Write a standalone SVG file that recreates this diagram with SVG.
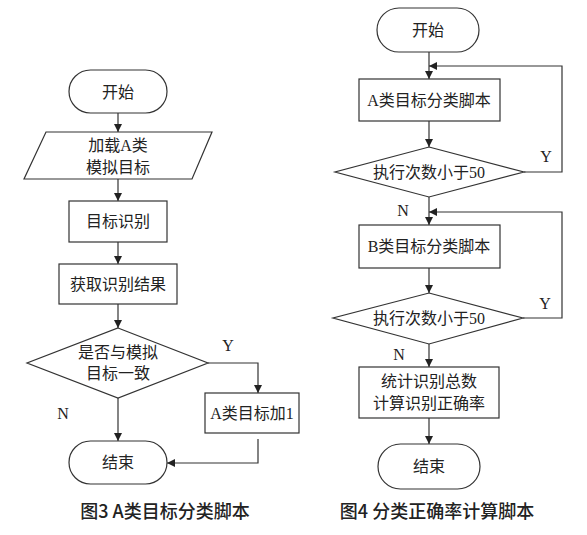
<svg xmlns="http://www.w3.org/2000/svg" width="587" height="535" viewBox="0 0 587 535">
<style>
.s{fill:#fff;stroke:#333;stroke-width:1.2}
.t{font-family:"Liberation Serif","Noto Sans CJK SC",serif;font-size:16px;fill:#222;text-anchor:middle;dominant-baseline:central}
.c{fill:none;stroke:#333;stroke-width:1.2}
.cap{font-family:"Noto Sans CJK SC","Liberation Sans",sans-serif;font-size:18px;font-weight:500;fill:#222;text-anchor:middle}
</style>
<defs>
<marker id="a" viewBox="0 0 10 10" refX="10" refY="5" markerWidth="8" markerHeight="8" markerUnits="userSpaceOnUse" orient="auto">
<path d="M0,0 L10,5 L0,10 z" fill="#222"/>
</marker>
</defs>
<rect width="587" height="535" fill="#fff"/>
<g id="connectors">
<line class="c" x1="118" y1="113" x2="118" y2="132" marker-end="url(#a)"/>
<line class="c" x1="118" y1="179" x2="118" y2="201" marker-end="url(#a)"/>
<line class="c" x1="118" y1="242" x2="118" y2="264" marker-end="url(#a)"/>
<line class="c" x1="118" y1="304" x2="118" y2="328" marker-end="url(#a)"/>
<polyline class="c" points="208,363 258,363 258,393" marker-end="url(#a)"/>
<line class="c" x1="118" y1="398" x2="118" y2="441" marker-end="url(#a)"/>
<polyline class="c" points="258,439 258,463 167,463" marker-end="url(#a)"/>
<line class="c" x1="429" y1="52" x2="429" y2="79" marker-end="url(#a)"/>
<polyline class="c" points="524,172 562,172 562,66 429,66" marker-end="url(#a)"/>
<line class="c" x1="429" y1="121" x2="429" y2="147" marker-end="url(#a)"/>
<line class="c" x1="429" y1="197" x2="429" y2="225" marker-end="url(#a)"/>
<polyline class="c" points="523,318 562,318 562,212 429,212" marker-end="url(#a)"/>
<line class="c" x1="429" y1="268" x2="429" y2="293" marker-end="url(#a)"/>
<line class="c" x1="429" y1="344" x2="429" y2="367" marker-end="url(#a)"/>
<line class="c" x1="429" y1="418" x2="429" y2="444" marker-end="url(#a)"/>
<text class="t" x="228" y="345">Y</text>
<text class="t" x="63" y="413">N</text>
<text class="t" x="546" y="156">Y</text>
<text class="t" x="403" y="210">N</text>
<text class="t" x="545" y="303">Y</text>
<text class="t" x="399" y="354">N</text>
</g>
<g id="start1"><rect class="s" x="69" y="70" width="98" height="43" rx="21.5"/><text class="t" x="118" y="92">开始</text></g>
<g id="load"><polygon class="s" points="46,132 212,132 192,179 24,179"/><text class="t" x="118" y="145">加载A类</text><text class="t" x="118" y="167">模拟目标</text></g>
<g id="recog"><rect class="s" x="69" y="201" width="98" height="41"/><text class="t" x="118" y="221">目标识别</text></g>
<g id="result"><rect class="s" x="59" y="264" width="118" height="40"/><text class="t" x="118" y="284">获取识别结果</text></g>
<g id="match"><polygon class="s" points="118,328 208,363 118,398 27,363"/><text class="t" x="118" y="352">是否与模拟</text><text class="t" x="118" y="373">目标一致</text></g>
<g id="addA"><rect class="s" x="205" y="393" width="94" height="40"/><text class="t" x="252" y="413">A类目标加1</text></g>
<g id="end1"><rect class="s" x="69" y="441" width="98" height="43" rx="21.5"/><text class="t" x="118" y="462">结束</text></g>
<g id="start2"><rect class="s" x="377" y="8" width="102" height="44" rx="22"/><text class="t" x="428" y="30">开始</text></g>
<g id="scriptA"><rect class="s" x="359" y="79" width="141" height="42"/><text class="t" x="429" y="100">A类目标分类脚本</text></g>
<g id="loopA"><polygon class="s" points="429,147 524,172 429,197 335,172"/><text class="t" x="429" y="172">执行次数小于50</text></g>
<g id="scriptB"><rect class="s" x="359" y="225" width="141" height="43"/><text class="t" x="429" y="246">B类目标分类脚本</text></g>
<g id="loopB"><polygon class="s" points="429,293 523,318 429,344 333,318"/><text class="t" x="429" y="318">执行次数小于50</text></g>
<g id="stats"><rect class="s" x="359" y="367" width="140" height="51"/><text class="t" x="429" y="381">统计识别总数</text><text class="t" x="429" y="403">计算识别正确率</text></g>
<g id="end2"><rect class="s" x="378" y="444" width="102" height="45" rx="22.5"/><text class="t" x="429" y="466">结束</text></g>
<g id="captions">
<text class="cap" x="165" y="518">图3 A类目标分类脚本</text>
<text class="cap" x="437" y="518">图4 分类正确率计算脚本</text>
</g>
</svg>
